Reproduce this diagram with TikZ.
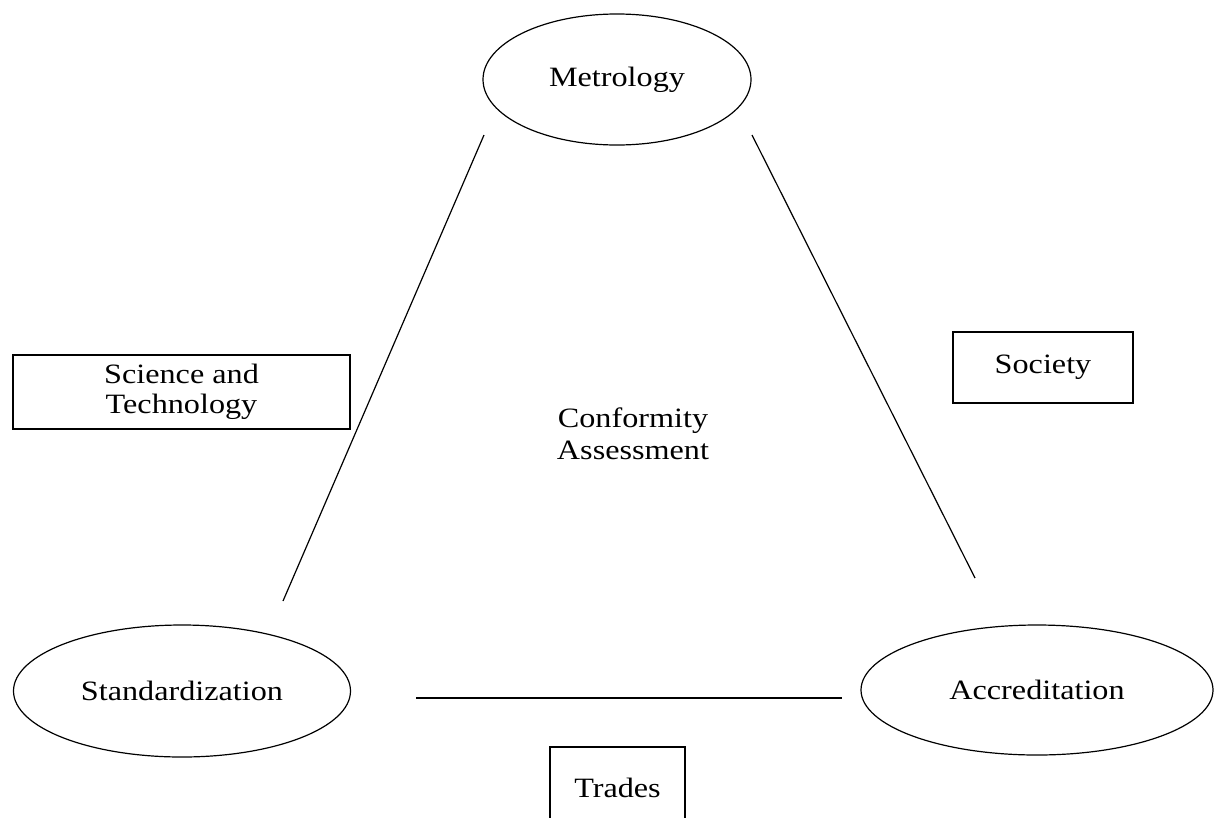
\documentclass[tikz,border=0pt]{standalone}
\usepackage{fontspec}
\setmainfont{Liberation Serif}[FakeStretch=1.15]
\usetikzlibrary{shapes.geometric}

\begin{document}
\begin{tikzpicture}[
  x=1pt, y=-1pt,
  every node/.style={align=center, font=\fontsize{28}{32}\selectfont},
  pillar/.style={ellipse, draw, line width=1.2pt, inner sep=0pt},
  field/.style={rectangle, draw, line width=1.2pt, inner sep=0pt},
  link/.style={line width=1.2pt}]

\useasboundingbox (0,0) rectangle (1214,817);

% The three pillars
\node[pillar, minimum width=268, minimum height=131] (metrology) at (617,79.5) {Metrology};
\node[pillar, minimum width=337, minimum height=132] (standardization) at (182,691) {Standardization};
\node[pillar, minimum width=352, minimum height=130] (accreditation) at (1037,690) {Accreditation};

% Fields around the triangle
\node[field, minimum width=337, minimum height=74] (science) at (181.5,392) {Science and \\[-2pt] Technology};
\node[field, minimum width=180, minimum height=71] (society) at (1043,367.5) {Society};
\node[field, minimum width=135, minimum height=82] (trades) at (617.5,788) {Trades};
\node (conformity) at (633,434) {Conformity \\ Assessment};

% Ends of the sides
\coordinate (metroLeft) at (484,135);
\coordinate (standTop) at (283,601);
\coordinate (metroRight) at (752,135);
\coordinate (accrTop) at (975,578);
\coordinate (standRight) at (416,698);
\coordinate (accrLeft) at (842,698);

% Draw the sides of the triangle
\draw [link] (metroLeft) -- (standTop);
\draw [link] (metroRight) -- (accrTop);
\draw [link] (standRight) -- (accrLeft);

\end{tikzpicture}
\end{document}
